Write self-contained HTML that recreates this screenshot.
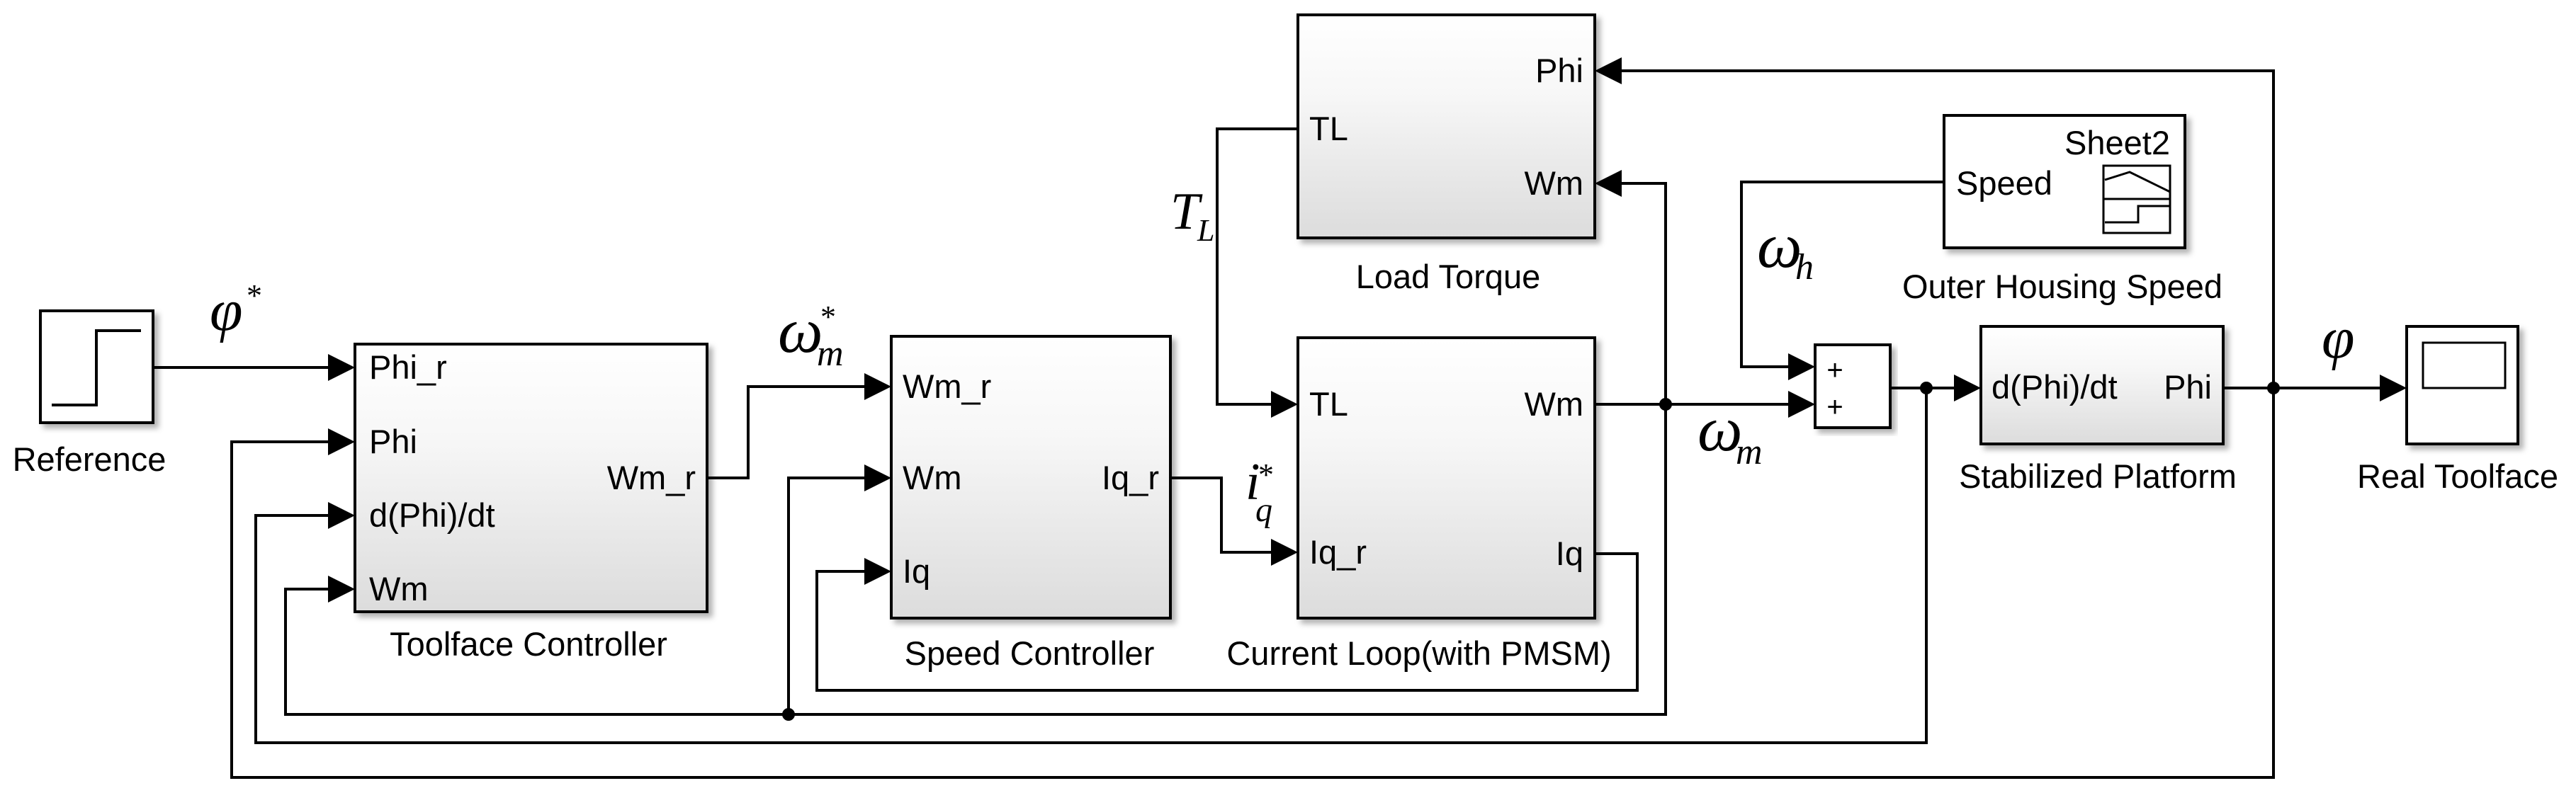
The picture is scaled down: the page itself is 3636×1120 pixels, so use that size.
<!DOCTYPE html>
<html><head><meta charset="utf-8"><style>
html,body{margin:0;padding:0;background:#fff;}
svg{display:block;}
.t{font-family:"Liberation Sans",Arial,sans-serif;font-size:47px;fill:#000;}
.m{font-family:"Liberation Serif","Times New Roman",serif;font-style:italic;fill:#000;}
</style></head><body>
<svg width="3636" height="1120" viewBox="0 0 3636 1120" xmlns="http://www.w3.org/2000/svg">
<defs>
<linearGradient id="g" x1="0" y1="0" x2="0" y2="1">
<stop offset="0" stop-color="#ffffff"/><stop offset="0.35" stop-color="#f7f7f7"/><stop offset="1" stop-color="#dcdcdc"/>
</linearGradient>
<filter id="sh" x="-5%" y="-5%" width="115%" height="115%"><feDropShadow dx="6" dy="6" stdDeviation="4" flood-color="#000" flood-opacity="0.3"/></filter>
</defs>
<g fill="none" stroke="#000" stroke-width="4">
<rect x="57" y="439" width="159" height="158" fill="#fff" filter="url(#sh)"/>
<polyline points="73,572 136,572 136,467 199,467"/>
<rect x="501" y="486" width="497" height="378" fill="url(#g)" filter="url(#sh)"/>
<rect x="1258" y="475" width="394" height="398" fill="url(#g)" filter="url(#sh)"/>
<rect x="1832" y="477" width="419" height="396" fill="url(#g)" filter="url(#sh)"/>
<rect x="1832" y="21" width="419" height="315" fill="url(#g)" filter="url(#sh)"/>
<rect x="2744" y="163" width="340" height="187" fill="#fff" filter="url(#sh)"/>
<rect x="2969" y="234" width="94" height="95" stroke-width="3"/>
<line x1="2969" y1="281" x2="3063" y2="281" stroke-width="3"/>
<polyline points="2971,254 3006,243 3063,271" stroke-width="3"/>
<polyline points="2971,314 3018,314 3018,291 3063,291" stroke-width="3"/>
<rect x="2562" y="487" width="106" height="117" fill="#fff" filter="url(#sh)"/>
<rect x="2796" y="461" width="342" height="166" fill="url(#g)" filter="url(#sh)"/>
<rect x="3397" y="461" width="157" height="166" fill="#fff" filter="url(#sh)"/>
<rect x="3420" y="484" width="116" height="64" stroke-width="3"/>

<polyline points="216,519 470,519"/>
<polyline points="998,675 1056,675 1056,546 1225,546"/>
<polyline points="1652,675 1724,675 1724,780 1800,780"/>
<polyline points="1832,182 1718,182 1718,571 1800,571"/>
<polyline points="2251,571 2530,571"/>
<polyline points="2351,571 2351,259 2283,259"/>
<polyline points="2351,571 2351,1009 403,1009 403,832 470,832"/>
<polyline points="1113,1009 1113,675 1225,675"/>
<polyline points="2251,782 2311,782 2311,975 1153,975 1153,807 1225,807"/>
<polyline points="2744,257 2458,257 2458,518 2530,518"/>
<polyline points="2668,548 2764,548"/>
<polyline points="2719,548 2719,1049 361,1049 361,728 470,728"/>
<polyline points="3138,548 3365,548"/>
<polyline points="3209,548 3209,100 2283,100"/>
<polyline points="3209,548 3209,1098 327,1098 327,624 470,624"/>
</g>
<g fill="#000">
<polygon points="463,500 501,519 463,538"/>
<polygon points="463,605 501,624 463,643"/>
<polygon points="463,709 501,728 463,747"/>
<polygon points="463,813 501,832 463,851"/>
<polygon points="1220,527 1258,546 1220,565"/>
<polygon points="1220,656 1258,675 1220,694"/>
<polygon points="1220,788 1258,807 1220,826"/>
<polygon points="1794,552 1832,571 1794,590"/>
<polygon points="1794,761 1832,780 1794,799"/>
<polygon points="2524,499 2562,518 2524,537"/>
<polygon points="2524,552 2562,571 2524,590"/>
<polygon points="2758,529 2796,548 2758,567"/>
<polygon points="3359,529 3397,548 3359,567"/>
<polygon points="2289,81 2251,100 2289,119"/>
<polygon points="2289,240 2251,259 2289,278"/>
<circle cx="2351" cy="571" r="9"/>
<circle cx="1113" cy="1009" r="9"/>
<circle cx="2719" cy="548" r="9"/>
<circle cx="3209" cy="548" r="9"/>
</g>

<text class="t" x="126" y="665" text-anchor="middle">Reference</text>
<text class="t" x="521" y="535">Phi_r</text>
<text class="t" x="521" y="640">Phi</text>
<text class="t" x="521" y="744">d(Phi)/dt</text>
<text class="t" x="521" y="848">Wm</text>
<text class="t" x="982" y="691" text-anchor="end">Wm_r</text>
<text class="t" x="746" y="926" text-anchor="middle">Toolface Controller</text>

<text class="t" x="1274" y="562">Wm_r</text>
<text class="t" x="1274" y="691">Wm</text>
<text class="t" x="1274" y="823">Iq</text>
<text class="t" x="1636" y="691" text-anchor="end">Iq_r</text>
<text class="t" x="1453" y="939" text-anchor="middle">Speed Controller</text>

<text class="t" x="1848" y="587">TL</text>
<text class="t" x="1848" y="796">Iq_r</text>
<text class="t" x="2235" y="587" text-anchor="end">Wm</text>
<text class="t" x="2235" y="798" text-anchor="end">Iq</text>
<text class="t" x="2003" y="939" text-anchor="middle">Current Loop(with PMSM)</text>

<text class="t" x="1848" y="198">TL</text>
<text class="t" x="2235" y="116" text-anchor="end">Phi</text>
<text class="t" x="2235" y="275" text-anchor="end">Wm</text>
<text class="t" x="2044" y="407" text-anchor="middle">Load Torque</text>

<text class="t" x="3063" y="218" text-anchor="end">Sheet2</text>
<text class="t" x="2761" y="275">Speed</text>
<text class="t" x="2911" y="421" text-anchor="middle">Outer Housing Speed</text>

<text x="2590" y="536" text-anchor="middle" style="font-family:'Liberation Sans',sans-serif;font-size:40px;">+</text>
<text x="2590" y="588" text-anchor="middle" style="font-family:'Liberation Sans',sans-serif;font-size:40px;">+</text>

<text class="t" x="2811" y="563">d(Phi)/dt</text>
<text class="t" x="3122" y="563" text-anchor="end">Phi</text>
<text class="t" x="2961" y="689" text-anchor="middle">Stabilized Platform</text>
<text class="t" x="3469" y="689" text-anchor="middle">Real Toolface</text>

<text class="m" x="296" y="466" style="font-size:84px">φ</text>
<text class="m" x="348" y="432" style="font-size:44px;font-style:normal">*</text>
<text class="m" x="1098" y="497" style="font-size:90px">ω</text>
<text class="m" x="1153" y="516" style="font-size:52px">m</text>
<text class="m" x="1158" y="462" style="font-size:44px;font-style:normal">*</text>
<text class="m" x="1652" y="323" style="font-size:74px">T</text>
<text class="m" x="1690" y="340" style="font-size:44px">L</text>
<text class="m" x="1758" y="705" style="font-size:74px">i</text>
<text class="m" x="1772" y="736" style="font-size:48px">q</text>
<text class="m" x="1776" y="685" style="font-size:44px;font-style:normal">*</text>
<text class="m" x="2396" y="636" style="font-size:90px">ω</text>
<text class="m" x="2450" y="655" style="font-size:52px">m</text>
<text class="m" x="2480" y="377" style="font-size:90px">ω</text>
<text class="m" x="2534" y="394" style="font-size:52px">h</text>
<text class="m" x="3277" y="505" style="font-size:84px">φ</text>
</svg>
</body></html>
